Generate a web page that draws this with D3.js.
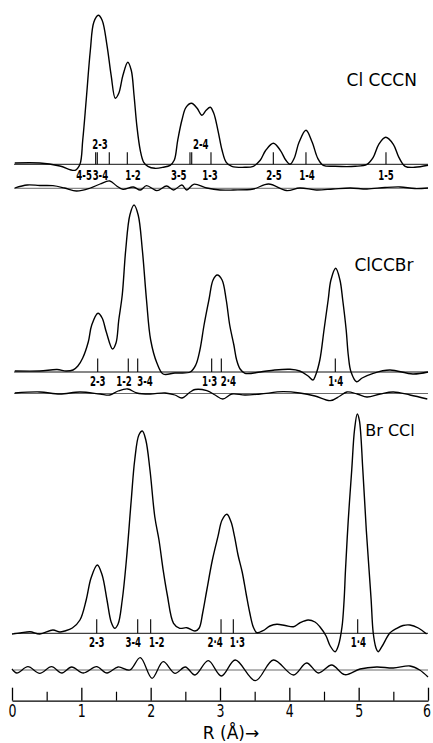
<!DOCTYPE html>
<html><head><meta charset="utf-8">
<script src="https://cdn.jsdelivr.net/npm/d3@7"></script>
<style>body{margin:0;background:#fff} svg{display:block} .cond{font-stretch:condensed}</style>
</head><body><svg id="c" width="433" height="743"></svg>
<script>
// ---------- DATA (R in Å, intensity in arbitrary units above baseline) ----------
const rTicks = [0, 1, 2, 3, 4, 5, 6];
const rMinorTicks = [0.5, 1.5, 2.5, 3.5, 4.5, 5.5];

const clcccnCurve = [[0.04,1.3],[0.40,1.3],[0.69,-1.7],[0.91,-6],[0.98,0],[1.02,24],[1.07,64],[1.13,114],[1.18,142],[1.245,149],[1.30,144],[1.37,119],[1.43,89],[1.49,66],[1.54,71],[1.60,89],[1.67,102],[1.72,94],[1.76,69],[1.80,39],[1.85,14],[1.90,2],[1.96,-2],[2.06,-4],[2.18,-3],[2.28,-1],[2.34,4],[2.39,24],[2.45,44],[2.51,57],[2.59,61],[2.67,56],[2.74,49],[2.80,54],[2.86,57],[2.91,51],[2.97,34],[3.03,14],[3.09,2],[3.17,-2],[3.36,-3],[3.48,-2],[3.58,4],[3.66,14],[3.77,21],[3.87,14],[3.95,4],[4.01,0],[4.07,6],[4.14,22],[4.24,34],[4.33,22],[4.41,6],[4.49,-1],[4.66,-2],[4.95,-2],[5.12,0],[5.21,7],[5.29,20],[5.39,27],[5.50,20],[5.58,7],[5.67,-2],[5.81,-3],[6.0,-1]];
const clcccnResidual = [[0.04,0.3],[0.22,3.3],[0.40,2.8],[0.59,2.6],[0.76,0.3],[0.93,-2.7],[1.13,0.3],[1.27,4.3],[1.41,7.3],[1.51,2.3],[1.60,-1],[1.75,1.3],[1.85,-1.7],[1.94,2.6],[2.09,-2.4],[2.23,2.3],[2.33,-1.7],[2.45,3.3],[2.52,-1.7],[2.62,4],[2.81,0.3],[3.00,-1.7],[3.19,-1.7],[3.48,-0.7],[3.70,4.3],[3.96,-2.2],[4.15,0.3],[4.39,-1.7],[4.63,-0.7],[4.88,0.3],[5.12,-0.7],[5.38,0.8],[5.60,1.3],[5.81,-0.2],[6.0,0.3]];
const clcccnSticks = [1.207, 1.230, 1.403, 1.663, 2.567, 2.592, 2.870, 3.769, 4.240, 5.394];
const clcccnLabelsBelow = [["4-5",1.04],["3-4",1.275],["1-2",1.745],["3-5",2.404],["1-3",2.856],["2-5",3.779],["1-4",4.255],["1-5",5.394]];
const clcccnLabelsAbove = [["2-3",1.269],["2-4",2.722]];

const clccbrCurve = [[0.04,1],[0.40,1],[0.65,2.5],[0.78,1],[0.88,2],[0.95,6],[1.02,14],[1.10,30],[1.15,47],[1.24,58.7],[1.30,54],[1.36,40],[1.45,23],[1.50,29],[1.54,52],[1.59,77],[1.64,122],[1.70,157],[1.76,167],[1.82,157],[1.88,122],[1.94,72],[2.00,32],[2.09,9],[2.18,-2],[2.35,-1],[2.57,0],[2.65,7],[2.71,22],[2.77,47],[2.84,72],[2.90,92],[2.96,97],[3.03,92],[3.09,72],[3.14,47],[3.20,27],[3.24,12],[3.29,3],[3.36,-1.3],[3.58,0],[3.79,2],[4.01,2.7],[4.15,1],[4.27,-4],[4.34,-8],[4.38,-3],[4.44,12],[4.50,42],[4.56,72],[4.60,92],[4.669,103.7],[4.73,92],[4.77,72],[4.82,42],[4.85,17],[4.89,0],[4.97,-9.7],[5.05,-6],[5.21,-1.3],[5.45,2],[5.78,-2],[6.0,0]];
const clccbrResidual = [[0.04,0.5],[0.40,1.5],[0.69,-0.5],[0.98,1.5],[1.27,-0.5],[1.41,-1.5],[1.53,2.5],[1.67,4.5],[1.80,0.5],[1.99,-0.5],[2.21,0.5],[2.35,-1.5],[2.45,-4.5],[2.57,1.5],[2.64,4],[2.81,2.8],[2.93,-1.5],[3.04,-5.5],[3.17,-0.5],[3.36,-1.5],[3.58,-0.5],[3.91,1.8],[4.15,0.5],[4.37,-2.5],[4.59,-7.2],[4.73,-2.5],[4.83,1.5],[4.98,-0.5],[5.12,-3.5],[5.31,-0.5],[5.50,1.5],[5.74,-1.5],[5.99,-5.5]];
const clccbrSticks = [1.236, 1.677, 1.813, 2.880, 3.019, 4.663];
const clccbrLabelsBelow = [["2-3",1.236],["1-2",1.615],["3-4",1.918],["1·3",2.85],["2·4",3.12],["1·4",4.669]];

const brcclCurve = [[0.0,-0.7],[0.12,0.3],[0.26,1.6],[0.40,-0.7],[0.59,3.3],[0.69,1.3],[0.76,2.3],[0.87,5.3],[0.98,13.3],[1.07,33.3],[1.14,55.3],[1.23,68.3],[1.30,58.3],[1.37,33.3],[1.43,11.3],[1.48,5],[1.53,9.3],[1.59,33.3],[1.65,73.3],[1.72,133.3],[1.77,173.3],[1.83,198.3],[1.88,202.3],[1.93,193.3],[1.99,163.3],[2.06,116.3],[2.12,93.3],[2.18,63.3],[2.24,38.3],[2.33,10],[2.42,5],[2.52,5.6],[2.64,2.3],[2.70,5.3],[2.75,20.3],[2.81,43.3],[2.89,73.3],[2.97,96.6],[3.03,113.3],[3.10,119],[3.16,111.3],[3.21,96.6],[3.26,78.3],[3.32,61.3],[3.38,38.3],[3.43,20.3],[3.48,6.3],[3.53,0.6],[3.62,2.6],[3.72,7.3],[3.82,9],[3.94,7.8],[4.06,6.6],[4.15,10.3],[4.27,13.3],[4.37,11.3],[4.44,6.6],[4.53,-2.7],[4.59,-12.7],[4.66,-18.4],[4.71,-11.7],[4.76,6.6],[4.79,33.3],[4.81,63.3],[4.85,113.3],[4.90,163.3],[4.94,203.3],[4.98,219.3],[5.01,213],[5.06,163.3],[5.11,103.3],[5.15,63.3],[5.18,33.3],[5.21,0.3],[5.25,-14.7],[5.28,-18.4],[5.34,-12.7],[5.45,0.3],[5.55,5],[5.64,7.8],[5.74,8.3],[5.86,5.3],[5.98,-0.7]];
const brcclResidual = [[0.0,1],[0.07,-3],[0.23,3.3],[0.40,-3.3],[0.57,3.3],[0.72,-3],[0.86,3],[1.03,-3],[1.22,3.3],[1.37,-3],[1.53,3],[1.70,0],[1.85,12.3],[2.02,-8.3],[2.18,8.3],[2.35,-3.3],[2.50,3],[2.64,-5],[2.83,9.3],[3.02,-6],[3.22,10],[3.51,-10.7],[3.77,10],[4.06,-5],[4.25,7],[4.42,-3],[4.61,5],[4.80,-4.7],[5.02,1],[5.26,3],[5.50,2],[5.74,4],[5.88,0],[6.0,-7]];
const brcclSticks = [1.222, 1.813, 2.000, 3.015, 3.192, 4.986];
const brcclLabelsBelow = [["2-3",1.222],["3-4",1.750],["1-2",2.087],["2·4",2.928],["1·3",3.250],["1·4",4.995]];

const panelNames = ["Cl CCCN", "ClCCBr", "Br CCl"];
const axisTitle = "R (Å)→";

// ---------- LAYOUT ----------
const svg = d3.select("#c");
const x = d3.scaleLinear().domain([0, 6]).range([12, 428]);
const cond = "'DejaVu Sans Condensed','DejaVu Sans',sans-serif";
const sans = "'DejaVu Sans','Liberation Sans',sans-serif";

const panels = [
  {name: panelNames[0], curve: clcccnCurve, residual: clcccnResidual, sticks: clcccnSticks,
   below: clcccnLabelsBelow, above: clcccnLabelsAbove,
   base: 164.3, resBase: 188.3, stick: 12, belowDy: 10.5, aboveDy: -20,
   titleX: 381.7, titleY: 80, titleSize: 17},
  {name: panelNames[1], curve: clccbrCurve, residual: clccbrResidual, sticks: clccbrSticks,
   below: clccbrLabelsBelow, above: [],
   base: 372, resBase: 393.5, stick: 13.5, belowDy: 8.5, aboveDy: -20,
   titleX: 384, titleY: 265, titleSize: 17},
  {name: panelNames[2], curve: brcclCurve, residual: brcclResidual, sticks: brcclSticks,
   below: brcclLabelsBelow, above: [],
   base: 633.3, resBase: 670, stick: 14, belowDy: 9, aboveDy: -20,
   titleX: 390, titleY: 430, titleSize: 16}
];

// labels drawn with a horizontal squeeze to mimic the narrow lettering
function drawLabels(g, data, yPos) {
  g.selectAll(null).data(data).join("text")
    .attr("transform", d => `translate(${x(d[1])},${yPos}) scale(0.68,1)`)
    .attr("text-anchor", "middle").attr("font-family", cond).attr("class", "cond")
    .attr("font-weight", "bold").attr("font-size", 14)
    .text(d => d[0]);
}

panels.forEach(p => {
  const y = d3.scaleLinear().domain([0, 100]).range([p.base, p.base - 100]);
  const yr = d3.scaleLinear().domain([0, 10]).range([p.resBase, p.resBase - 10]);
  const g = svg.append("g");

  g.append("line").attr("x1", x(0.03)).attr("x2", x(6)).attr("y1", y(0)).attr("y2", y(0))
    .attr("stroke", "#111").attr("stroke-width", 1);
  const line = d3.line().x(d => x(d[0])).y(d => y(d[1])).curve(d3.curveCatmullRom.alpha(0.5));
  g.append("path").datum(p.curve).attr("d", line)
    .attr("fill", "none").attr("stroke", "#000").attr("stroke-width", 1.4);
  g.selectAll(".stick").data(p.sticks).join("line")
    .attr("x1", d => x(d)).attr("x2", d => x(d))
    .attr("y1", y(0)).attr("y2", y(p.stick))
    .attr("stroke", "#000").attr("stroke-width", 1.1);
  drawLabels(g, p.below, y(0) + p.belowDy + 5);
  drawLabels(g, p.above, y(0) + p.aboveDy + 5);
  g.append("text").attr("x", p.titleX).attr("y", p.titleY + p.titleSize * 0.36)
    .attr("text-anchor", "middle").attr("font-family", sans)
    .attr("font-size", p.titleSize).text(p.name);

  g.append("line").attr("x1", x(0.03)).attr("x2", x(6)).attr("y1", yr(0)).attr("y2", yr(0))
    .attr("stroke", "#444").attr("stroke-width", 0.8);
  const rline = d3.line().x(d => x(d[0])).y(d => yr(d[1])).curve(d3.curveCatmullRom.alpha(0.5));
  g.append("path").datum(p.residual).attr("d", rline)
    .attr("fill", "none").attr("stroke", "#000").attr("stroke-width", 1.3);
});

// ---------- AXIS ----------
const axisY = 700.7;
const major = d3.axisBottom(x).tickValues(rTicks).tickSizeInner(-13).tickSizeOuter(0)
  .tickPadding(4).tickFormat(d3.format("d"));
const ga = svg.append("g").attr("transform", `translate(0,${axisY})`).call(major);
ga.selectAll("text").attr("font-family", cond).attr("class", "cond")
  .attr("font-size", 18).attr("fill", "#000")
  .attr("textLength", 8).attr("lengthAdjust", "spacingAndGlyphs")
  .attr("dx", d => d === 6 ? -1.5 : 0);
ga.selectAll("line").attr("stroke", "#000").attr("stroke-width", 1.3);
ga.select(".domain").attr("stroke", "#000").attr("stroke-width", 1.3);

const minor = d3.axisBottom(x).tickValues(rMinorTicks).tickSizeInner(-9).tickSizeOuter(0).tickFormat("");
const gm = svg.append("g").attr("transform", `translate(0,${axisY})`).call(minor);
gm.select(".domain").remove();
gm.selectAll("line").attr("stroke", "#000").attr("stroke-width", 1.2);

svg.append("text").attr("x", 231).attr("y", 738.5).attr("text-anchor", "middle")
  .attr("font-family", sans).attr("font-size", 17).text(axisTitle);
</script></body></html>
